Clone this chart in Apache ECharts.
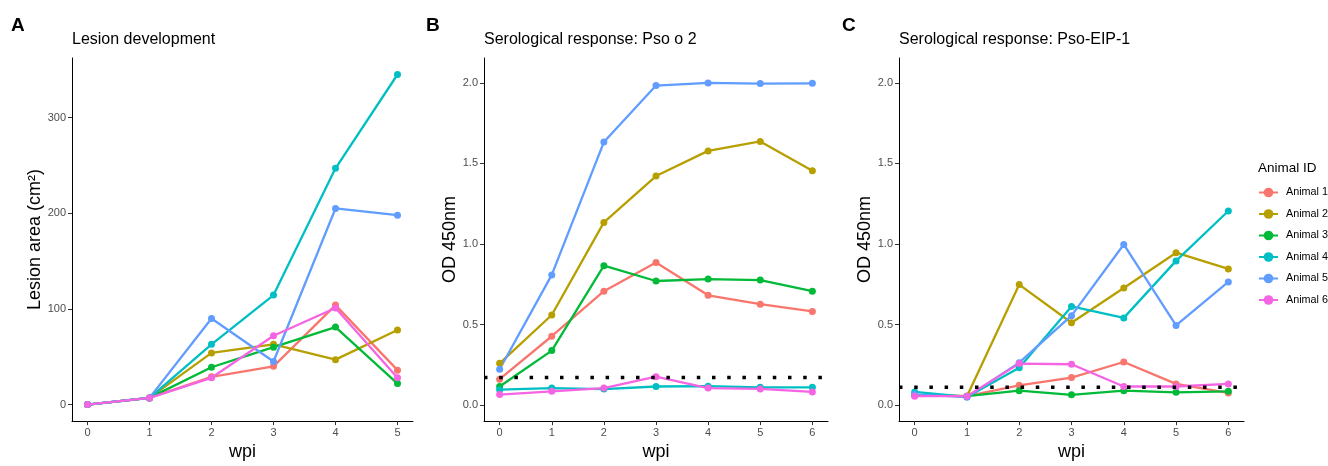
<!DOCTYPE html>
<html>
<head>
<meta charset="utf-8">
<script src="https://cdn.jsdelivr.net/npm/echarts@6/dist/echarts.min.js"></script>
<style>
html,body{margin:0;padding:0;background:#fff;}
#chart{width:1328px;height:466px;}
</style>
</head>
<body>
<div id="chart"></div>
<script>
// ---- data ----
const animals = ['Animal 1','Animal 2','Animal 3','Animal 4','Animal 5','Animal 6'];
const colors = ['#F8766D','#B79F00','#00BA38','#00BFC4','#619CFF','#F564E3'];

const weeksA = [0,1,2,3,4,5];
const lesionA1 = [0,7,29,40,104,36];
const lesionA2 = [0,7,54,63,47,78];
const lesionA3 = [0,7,39,60,81,22];
const lesionA4 = [0,7,63,114.5,247,345];
const lesionA5 = [0,7,90,45,205,198];
const lesionA6 = [0,7,28,72,101,28];

const weeksBC = [0,1,2,3,4,5,6];
const psoA1 = [0.160,0.427,0.707,0.885,0.681,0.626,0.581];
const psoA2 = [0.259,0.559,1.134,1.422,1.578,1.637,1.455];
const psoA3 = [0.115,0.338,0.865,0.770,0.782,0.776,0.707];
const psoA4 = [0.095,0.105,0.099,0.115,0.117,0.110,0.110];
const psoA5 = [0.222,0.808,1.633,1.984,2.000,1.996,1.998];
const psoA6 = [0.065,0.085,0.105,0.176,0.105,0.100,0.081];

const eipA1 = [0.060,0.055,0.122,0.170,0.267,0.131,0.075];
const eipA2 = [0.060,0.055,0.748,0.511,0.727,0.946,0.845];
const eipA3 = [0.060,0.055,0.089,0.063,0.089,0.079,0.085];
const eipA4 = [0.081,0.050,0.231,0.612,0.541,0.895,1.205];
const eipA5 = [0.065,0.050,0.263,0.555,0.997,0.494,0.764];
const eipA6 = [0.055,0.055,0.257,0.253,0.115,0.115,0.131];

const cutoffB = 0.17;
const cutoffC = 0.11;

const ticksA = [0,1,2,3,4,5];
const ticksBC = [0,1,2,3,4,5,6];
const yTicksA = [0,100,200,300];
const yTicksBC = [0,0.5,1.0,1.5,2.0];

// ---- build ----
const lesion = [lesionA1,lesionA2,lesionA3,lesionA4,lesionA5,lesionA6];
const pso = [psoA1,psoA2,psoA3,psoA4,psoA5,psoA6];
const eip = [eipA1,eipA2,eipA3,eipA4,eipA5,eipA6];

const FONT = 'Liberation Sans, Arial, sans-serif';

function xAxis(gi, min, max, ticks){
  return {
    type:'value', gridIndex:gi, min:min, max:max,
    name:'wpi', nameLocation:'middle', nameGap:17,
    nameTextStyle:{fontSize:18, color:'#000', fontFamily:FONT},
    axisLine:{show:true, onZero:false, lineStyle:{color:'#000', width:1}},
    axisTick:{show:true, length:4, customValues:ticks, lineStyle:{color:'#333'}},
    axisLabel:{customValues:ticks, color:'#4D4D4D', fontSize:11, margin:6, fontFamily:FONT},
    splitLine:{show:false}
  };
}
function yAxis(gi, min, max, ticks, name, gap, fmt){
  return {
    type:'value', gridIndex:gi, min:min, max:max,
    name:name, nameLocation:'middle', nameGap:gap,
    nameTextStyle:{fontSize:18, color:'#000', fontFamily:FONT},
    axisLine:{show:true, onZero:false, lineStyle:{color:'#000', width:1}},
    axisTick:{show:true, length:4, customValues:ticks, lineStyle:{color:'#333'}},
    axisLabel:{customValues:ticks, color:'#4D4D4D', fontSize:11, margin:6, fontFamily:FONT, formatter:fmt},
    splitLine:{show:false}
  };
}

const series = [];
function addPanel(gi, xs, sets, cutoff, xmin, xmax){
  sets.forEach((vals,i)=>{
    series.push({
      name:animals[i], type:'line', xAxisIndex:gi, yAxisIndex:gi,
      data: xs.map((x,k)=>[x, vals[k]]),
      symbol:'circle', symbolSize:7, showSymbol:true,
      lineStyle:{width:2.3, color:colors[i]},
      itemStyle:{color:colors[i]},
      emphasis:{disabled:true}, animation:false, z:2
    });
  });
  if(cutoff!==null){
    series.push({
      name:'cutoff', type:'line', xAxisIndex:gi, yAxisIndex:gi,
      data:[[xmin,cutoff],[xmax,cutoff]],
      symbol:'none',
      lineStyle:{width:3.5, color:'#000', type:[3.5,11.7], cap:'butt'},
      emphasis:{disabled:true}, animation:false, z:3, silent:true
    });
  }
}
addPanel(0, weeksA, lesion, null);
addPanel(1, weeksBC, pso, cutoffB, -0.3, 6.3);
addPanel(2, weeksBC, eip, cutoffC, -0.3, 6.3);

const panelLetter = {fontSize:19, fontWeight:'bold', color:'#000', fontFamily:FONT};
const panelTitle = {fontSize:16, fontWeight:'normal', color:'#000', fontFamily:FONT};

const option = {
  backgroundColor:'#fff',
  animation:false,
  textStyle:{fontFamily:FONT},
  title:[
    {text:'A', left:11, top:16, padding:0, textStyle:panelLetter},
    {text:'B', left:426, top:16, padding:0, textStyle:panelLetter},
    {text:'C', left:842, top:16, padding:0, textStyle:panelLetter},
    {text:'Lesion development', left:72, top:32, padding:0, textStyle:panelTitle},
    {text:'Serological response: Pso o 2', left:484, top:32, padding:0, textStyle:panelTitle},
    {text:'Serological response: Pso-EIP-1', left:899, top:32, padding:0, textStyle:panelTitle},
    {text:'Animal ID', left:1258, top:161, padding:0, textStyle:{fontSize:13.5, fontWeight:'normal', color:'#000', fontFamily:FONT}}
  ],
  legend:{
    data:animals, orient:'vertical', left:1258, top:187,
    itemWidth:19, itemHeight:12, itemGap:10.5, padding:0,
    textStyle:{fontSize:10.8, color:'#000', fontFamily:FONT, padding:[0,0,0,3]},
    selectedMode:false
  },
  grid:[
    {left:72, top:58, width:341, height:371, containLabel:false},
    {left:484, top:58, width:344, height:371, containLabel:false},
    {left:899, top:58, width:345, height:371, containLabel:false}
  ],
  xAxis:[
    xAxis(0,-0.25,5.25,ticksA),
    xAxis(1,-0.3,6.3,ticksBC),
    xAxis(2,-0.3,6.3,ticksBC)
  ],
  yAxis:[
    yAxis(0,-17.25,362.25,yTicksA,'Lesion area (cm²)',23, v=>String(Math.round(v))),
    yAxis(1,-0.1,2.155,yTicksBC,'OD 450nm',24, v=>v.toFixed(1)),
    yAxis(2,-0.1,2.155,yTicksBC,'OD 450nm',24, v=>v.toFixed(1))
  ],
  series:series
};

const chart = echarts.init(document.getElementById('chart'), null, {renderer:'canvas'});
chart.setOption(option);
</script>
</body>
</html>
